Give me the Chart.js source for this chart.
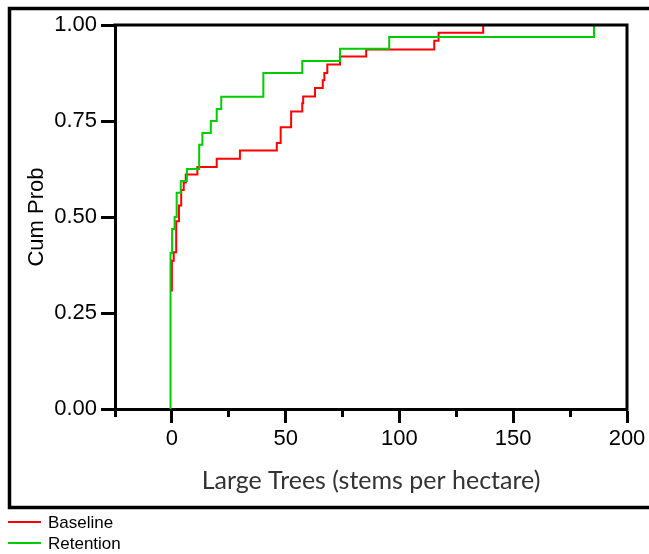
<!DOCTYPE html>
<html>
<head>
<meta charset="utf-8">
<script src="https://cdn.jsdelivr.net/npm/chart.js@4/dist/chart.umd.min.js"></script>
<style>
  html, body { margin: 0; padding: 0; background: #fff; }
  canvas { display: block; }
</style>
</head>
<body>
<canvas id="cdf" width="649" height="554"></canvas>
<script>
// Series names and colours
const seriesNames = ['Baseline', 'Retention'];
const seriesColors = ['#ff0000', '#00cc00'];

// Baseline: stems per hectare at each step, and cumulative probability reached there
const baselineX = [0, 0, 0.8, 1.9, 3.1, 4.1, 5.2, 6.1, 11.2, 19.7, 29.9, 46.1, 47.8, 52.4,
                   57.3, 57.7, 62.9, 66.3, 67.0, 68.3, 73.9, 85.4, 115.3, 117.2, 136.8];
const baselineP = [0.306, 0.386, 0.408, 0.489, 0.530, 0.570, 0.590, 0.611, 0.630, 0.652, 0.673, 0.693, 0.734, 0.775,
                   0.796, 0.814, 0.836, 0.856, 0.875, 0.897, 0.918, 0.936, 0.959, 0.980, 1.000];

// Retention: stems per hectare at each step, and cumulative probability reached there
const retentionX = [-0.6, -0.6, 0.1, 1.2, 2.1, 3.9, 6.6, 12.0, 13.4, 17.1, 19.7, 21.7, 40.2, 57.3, 73.9, 95.5, 185.5];
const retentionP = [0, 0.406, 0.469, 0.500, 0.563, 0.594, 0.625, 0.688, 0.719, 0.750, 0.781, 0.813, 0.875, 0.906, 0.938, 0.969, 1.000];

// Axis ticks and titles
const xMajorTicks = [0, 50, 100, 150, 200];
const xMinorTicks = [-25, 25, 75, 125, 175];
const yTicks = [0, 0.25, 0.5, 0.75, 1];
const xTitle = 'Large Trees (stems per hectare)';
const yTitle = 'Cum Prob';

const toPoints = (xs, ps) => xs.map((x, i) => ({ x: x, y: ps[i] }));

// Plot box (top/right edges), outer frame and the legend below the frame
const decorations = {
  id: 'decorations',
  afterDraw(chart) {
    const { ctx, chartArea: a } = chart;
    ctx.save();
    ctx.strokeStyle = '#000';
    ctx.lineCap = 'square';
    ctx.lineWidth = 3;
    ctx.beginPath();
    ctx.moveTo(a.left, a.top);
    ctx.lineTo(a.right, a.top);
    ctx.lineTo(a.right, a.bottom);
    ctx.stroke();

    ctx.lineCap = 'butt';
    ctx.lineWidth = 3.5;
    ctx.beginPath();
    ctx.moveTo(chart.width + 5, 8.5);
    ctx.lineTo(9.5, 8.5);
    ctx.lineTo(9.5, 507.5);
    ctx.lineTo(chart.width + 5, 507.5);
    ctx.stroke();

    ctx.font = '17px "Liberation Sans", Arial, sans-serif';
    ctx.textBaseline = 'middle';
    ctx.textAlign = 'left';
    seriesNames.forEach((name, i) => {
      const ds = chart.data.datasets.find(d => d.label === name);
      const y = 522 + i * 21;
      ctx.strokeStyle = ds.borderColor;
      ctx.lineWidth = 2;
      ctx.beginPath();
      ctx.moveTo(8, y);
      ctx.lineTo(41, y);
      ctx.stroke();
      ctx.fillStyle = '#000';
      ctx.fillText(name, 48, y + 1.5);
    });
    ctx.restore();
  }
};

const tickFont = { family: '"Liberation Sans", Arial, sans-serif', size: 22 };

new Chart(document.getElementById('cdf'), {
  type: 'line',
  data: {
    datasets: [
      {
        label: seriesNames[0],
        data: toPoints(baselineX, baselineP),
        borderColor: seriesColors[0],
        borderWidth: 2,
        stepped: 'before',
        pointRadius: 0,
        fill: false,
        order: 1
      },
      {
        label: seriesNames[1],
        data: toPoints(retentionX, retentionP),
        borderColor: seriesColors[1],
        borderWidth: 2,
        stepped: 'before',
        pointRadius: 0,
        fill: false,
        order: 0
      }
    ]
  },
  options: {
    responsive: false,
    devicePixelRatio: 1,
    animation: false,
    events: [],
    layout: { padding: { left: 9, top: 25, right: 22, bottom: 47 } },
    plugins: { legend: { display: false }, tooltip: { enabled: false } },
    scales: {
      x: {
        type: 'linear',
        position: 'bottom',
        weight: 1,
        min: -25,
        max: 200,
        afterBuildTicks: s => { s.ticks = xMajorTicks.map(v => ({ value: v })); },
        afterFit: s => { s.height = 98; },
        ticks: { font: tickFont, color: '#000', padding: 3, maxRotation: 0 },
        grid: { drawOnChartArea: false, tickLength: 14, tickWidth: 3, tickColor: '#000' },
        border: { color: '#000', width: 3 },
        title: {
          display: true,
          text: xTitle,
          color: '#333',
          font: { family: 'Lato, "Noto Sans", sans-serif', size: 25 },
          padding: { top: 0, bottom: 11 }
        }
      },
      xMinor: {
        type: 'linear',
        axis: 'x',
        position: 'bottom',
        weight: 0,
        min: -25,
        max: 200,
        afterBuildTicks: s => { s.ticks = xMinorTicks.map(v => ({ value: v })); },
        afterFit: s => { s.height = 0; },
        ticks: { display: false },
        grid: { drawOnChartArea: false, tickLength: 8, tickWidth: 3, tickColor: '#000' },
        border: { display: false }
      },
      y: {
        type: 'linear',
        min: 0,
        max: 1,
        afterBuildTicks: s => { s.ticks = yTicks.map(v => ({ value: v })); },
        afterFit: s => { s.width = 106; },
        ticks: { font: tickFont, color: '#000', padding: 4, callback: v => v.toFixed(2) },
        grid: { drawOnChartArea: false, tickLength: 14, tickWidth: 3, tickColor: '#000' },
        border: { color: '#000', width: 3 },
        title: {
          display: true,
          text: yTitle,
          color: '#000',
          font: { family: '"Liberation Sans", Arial, sans-serif', size: 22 },
          padding: { top: 15, bottom: 0 }
        }
      }
    }
  },
  plugins: [decorations]
});
</script>
</body>
</html>
